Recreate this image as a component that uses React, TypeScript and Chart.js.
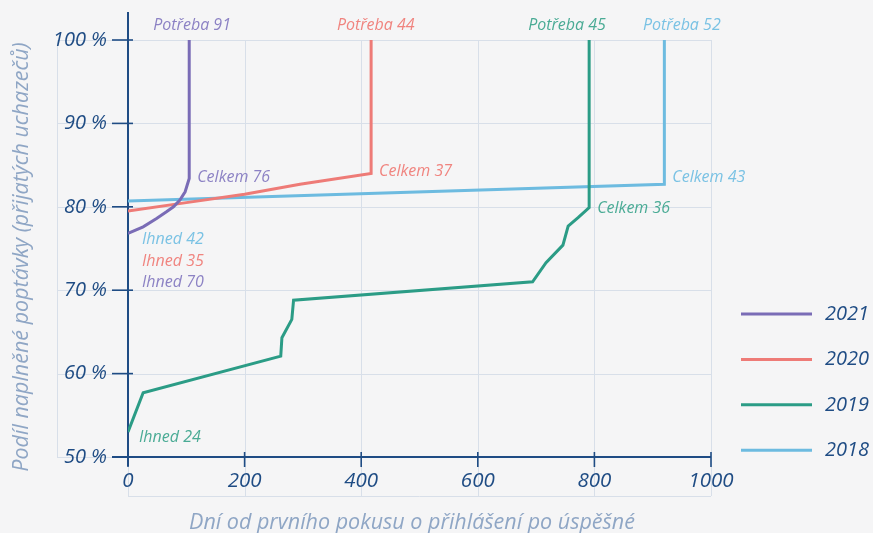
import React, { useEffect, useRef } from 'react';
import { Chart, registerables } from 'chart.js';

Chart.register(...registerables);

// ---------- data ----------
const seriesNames = ['2021', '2020', '2019', '2018'];

const days2021 = [0, 26, 49, 66, 78, 89, 98, 105, 105];
const share2021 = [76.8, 77.6, 78.6, 79.4, 80.0, 80.8, 81.8, 83.4, 100];

const days2020 = [0, 100, 200, 295, 417, 417];
const share2020 = [79.5, 80.5, 81.5, 82.7, 84.0, 100];

const days2019 = [0, 26, 262, 264, 281, 284, 694, 717, 746, 755, 772, 791, 791];
const share2019 = [53.0, 57.7, 62.1, 64.3, 66.5, 68.8, 71.0, 73.3, 75.4, 77.7, 78.7, 79.9, 100];

const days2018 = [0, 920, 920];
const share2018 = [80.7, 82.7, 100];

const xTicks = [0, 200, 400, 600, 800, 1000];
const yTicks = [50, 60, 70, 80, 90, 100];

const needLabels = ['Potřeba 91', 'Potřeba 44', 'Potřeba 45', 'Potřeba 52'];
const totalLabels = ['Celkem 76', 'Celkem 37', 'Celkem 36', 'Celkem 43'];
const immediateLabels = ['Ihned 70', 'Ihned 35', 'Ihned 24', 'Ihned 42'];

const xTitle = 'Dní od prvního pokusu o přihlášení po úspěšné';
const yTitle = 'Podíl naplněné poptávky (přijatých uchazečů)';

// ---------- styles / layout ----------
const BG = '#f5f5f6';
const AXIS = '#1f4c84';
const GRID = '#d8dfe9';
const TITLE = '#8fa6c5';
const lineColors = ['#7a6cb6', '#ee7b77', '#2b9c86', '#6dbbe0'];
const textColors = ['#8c82c4', '#f0847f', '#4aab95', '#7ac2e4'];
const FONT = '"Open Sans", "Noto Sans", sans-serif';

// label anchors (days for x of "Potřeba" labels, share for "Ihned" labels)
const needAnchorDays = [110, 425, 753, 950];
const totalOffsetY = [-1, -2, 1, -7];
const immediateAnchorShare = [70.9, 73.4, 52.4, 76.1];

const toPoints = (xs: number[], ys: number[]) => xs.map((x, i) => ({ x, y: ys[i] }));
const allSeries = [
  toPoints(days2021, share2021),
  toPoints(days2020, share2020),
  toPoints(days2019, share2019),
  toPoints(days2018, share2018),
];

const line = (ctx: CanvasRenderingContext2D, x1: number, y1: number, x2: number, y2: number) => {
  ctx.beginPath();
  ctx.moveTo(x1, y1);
  ctx.lineTo(x2, y2);
  ctx.stroke();
};

const decorPlugin = {
  id: 'decor',
  beforeDraw(chart: any) {
    const { ctx, chartArea } = chart;
    const { left, right, top, bottom } = chartArea;
    const xs = chart.scales.x;
    const ys = chart.scales.y;
    ctx.save();
    ctx.fillStyle = BG;
    ctx.fillRect(0, 0, chart.width, chart.height);
    ctx.strokeStyle = GRID;
    ctx.lineWidth = 1;
    const gl = left - 71;
    for (const v of yTicks) {
      const y = Math.round(ys.getPixelForValue(v)) + 0.5;
      line(ctx, gl, y, right, y);
    }
    line(ctx, gl + 0.5, top, gl + 0.5, bottom);
    for (const v of xTicks) {
      const x = Math.round(xs.getPixelForValue(v)) + 0.5;
      line(ctx, x, top, x, bottom + 39);
    }
    line(ctx, left, bottom + 39.5, right, bottom + 39.5);
    ctx.restore();
  },
  beforeDatasetsDraw(chart: any) {
    const { ctx, chartArea } = chart;
    const { left, right, top, bottom } = chartArea;
    const xs = chart.scales.x;
    const ys = chart.scales.y;
    ctx.save();
    ctx.strokeStyle = AXIS;
    ctx.lineWidth = 2;
    line(ctx, left, top - 28, left, bottom + 9);
    line(ctx, left - 16, bottom, right, bottom);
    ctx.lineWidth = 1.6;
    for (const v of yTicks) {
      const y = ys.getPixelForValue(v);
      line(ctx, left - 16, y, left + 5, y);
    }
    for (const v of xTicks) {
      const x = xs.getPixelForValue(v);
      line(ctx, x, bottom - 5, x, bottom + 10);
    }
    ctx.restore();
  },
  afterDraw(chart: any) {
    const { ctx, chartArea } = chart;
    const { left, right, bottom } = chartArea;
    const top = chartArea.top;
    const xs = chart.scales.x;
    const ys = chart.scales.y;
    ctx.save();
    // annotations
    ctx.font = `italic 16px ${FONT}`;
    ctx.textBaseline = 'middle';
    allSeries.forEach((pts, i) => {
      ctx.fillStyle = textColors[i];
      ctx.textAlign = 'center';
      ctx.fillText(needLabels[i], xs.getPixelForValue(needAnchorDays[i]), top - 15);
      const corner = pts[pts.length - 2];
      ctx.textAlign = 'left';
      ctx.fillText(
        totalLabels[i],
        xs.getPixelForValue(corner.x) + 8,
        ys.getPixelForValue(corner.y) + totalOffsetY[i]
      );
      ctx.fillText(
        immediateLabels[i],
        left + (i === 2 ? 11 : 14),
        ys.getPixelForValue(immediateAnchorShare[i])
      );
    });
    // legend
    ctx.font = `italic 500 20px ${FONT}`;
    chart.data.datasets.forEach((ds: any, i: number) => {
      const y = 314 + i * 45.4;
      ctx.strokeStyle = ds.borderColor;
      ctx.lineWidth = 3;
      line(ctx, right + 30, y, right + 101, y);
      ctx.fillStyle = AXIS;
      ctx.textAlign = 'left';
      ctx.fillText(ds.label, right + 114, y);
    });
    // axis titles
    ctx.fillStyle = TITLE;
    ctx.font = `italic 21.5px ${FONT}`;
    ctx.textAlign = 'center';
    ctx.fillText(xTitle, left + 284, bottom + 66);
    ctx.translate(22, 257);
    ctx.rotate(-Math.PI / 2);
    ctx.fillText(yTitle, 0, 0);
    ctx.restore();
  },
};

export default function App() {
  const ref = useRef<HTMLCanvasElement | null>(null);
  useEffect(() => {
    if (!ref.current) return;
    const chart = new Chart(ref.current, {
      type: 'line',
      data: {
        datasets: allSeries.map((pts, i) => ({
          label: seriesNames[i],
          data: pts,
          borderColor: lineColors[i],
          backgroundColor: lineColors[i],
          borderWidth: 3,
          pointRadius: 0,
          tension: 0,
          fill: false,
        })),
      },
      options: {
        animation: false,
        responsive: false,
        devicePixelRatio: 1,
        layout: { padding: { left: 0, top: 40, right: 162, bottom: 0 } },
        plugins: { legend: { display: false }, tooltip: { enabled: false } },
        scales: {
          x: {
            type: 'linear',
            min: 0,
            max: 1000,
            afterFit: (s: any) => { s.height = 76; },
            border: { display: false },
            grid: { drawOnChartArea: false, drawTicks: false },
            ticks: {
              stepSize: 200,
              padding: 12,
              color: AXIS,
              font: { family: FONT, size: 20.5, style: 'italic', weight: '500' },
              maxRotation: 0,
              callback: (v: any) => String(v),
            },
          },
          y: {
            type: 'linear',
            min: 50,
            max: 100,
            afterFit: (s: any) => { s.width = 128; },
            border: { display: false },
            grid: { drawOnChartArea: false, drawTicks: false },
            ticks: {
              stepSize: 10,
              padding: 21,
              color: AXIS,
              font: { family: FONT, size: 20, style: 'italic', weight: '500' },
              callback: (v: any) => `${v} %`,
            },
          },
        },
      },
      plugins: [decorPlugin],
    });
    return () => chart.destroy();
  }, []);
  return (
    <div style={{ position: 'absolute', left: 0, top: 0, width: 873, height: 533, background: BG }}>
      <canvas ref={ref} width={873} height={533} style={{ width: 873, height: 533, display: 'block' }} />
    </div>
  );
}
